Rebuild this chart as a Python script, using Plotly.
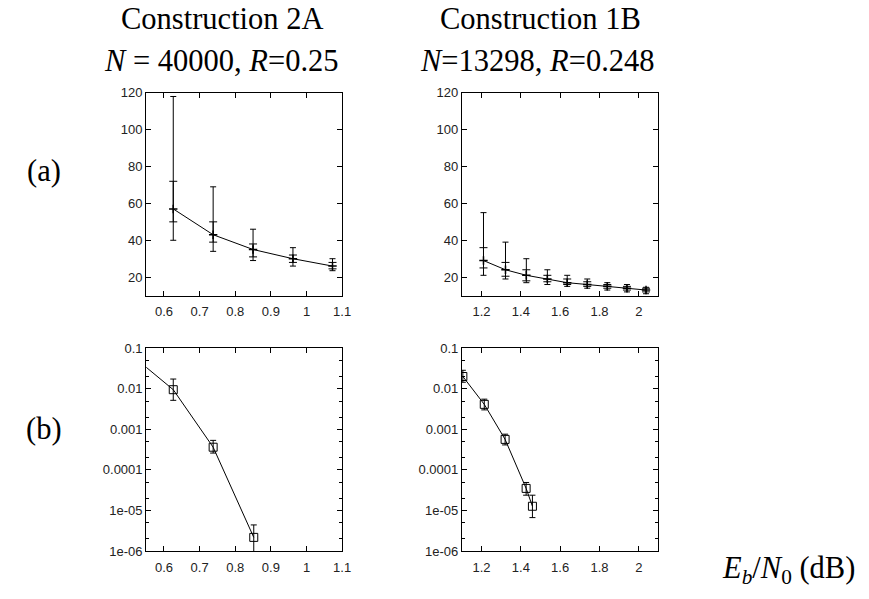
import plotly.graph_objects as go

W, H = 869, 599

# ---------------- data ----------------
# (a) Construction 2A: mean iterations with inner / outer ranges
a2_x = [0.626, 0.738, 0.850, 0.962, 1.073]
a2_mean = [57, 43, 35, 30, 26]
a2_in_lo = [50, 39, 31, 28, 24.5]
a2_in_hi = [72, 50, 38, 32, 28]
a2_out_lo = [40, 34, 29, 26, 23.5]
a2_out_hi = [118, 69, 46, 36, 30]

# (a) Construction 1B
a1_x = [1.21, 1.322, 1.428, 1.535, 1.636, 1.738, 1.84, 1.94, 2.037]
a1_mean = [29, 24, 21, 19, 17, 16, 15, 14, 13]
a1_in_lo = [25, 20.5, 18, 17.5, 16, 15, 14, 13, 12]
a1_in_hi = [36, 28, 24, 21, 19, 17.5, 16, 15, 14]
a1_out_lo = [21, 19, 17, 16, 15, 14, 13, 12, 11]
a1_out_hi = [55, 39, 30, 24, 21, 19, 17, 16, 14.5]

# (b) Construction 2A: error rate
b2_x = [0.626, 0.738, 0.852]
b2_y = [0.0095, 3.63e-4, 2.17e-6]
b2_hi = [0.0174, 5.35e-4, 4.4e-6]
b2_lo = [0.0052, 2.6e-4, 9e-7]
b2_line_x = [0.55, 0.626, 0.738, 0.852]
b2_line_y = [0.034, 0.0095, 3.63e-4, 2.17e-6]

# (b) Construction 1B
b1_x = [1.105, 1.214, 1.32, 1.427, 1.459]
b1_y = [0.0201, 0.00413, 5.65e-4, 3.5e-5, 1.27e-5]
b1_hi = [0.0286, 0.00555, 7.6e-4, 4.9e-5, 2.38e-5]
b1_lo = [0.0145, 0.00302, 4.13e-4, 2.38e-5, 6.67e-6]

log_tickvals = [1e-6, 1e-5, 1e-4, 1e-3, 1e-2, 1e-1]
log_ticktext = ["1e-06", "1e-05", "0.0001", "0.001", "0.01", "0.1"]

# ---------------- figure ----------------
fig = go.Figure()
BLACK = "#000000"


def px_x(a, b):
    return [a / W, b / W]


def px_y(top, bottom):
    return [1 - bottom / H, 1 - top / H]


def add_range_panel(xa, ya, x, mean, in_lo, in_hi, out_lo, out_hi):
    fig.add_trace(go.Scatter(
        x=x, y=mean, mode="lines", xaxis=xa, yaxis=ya,
        line=dict(width=0, color="rgba(0,0,0,0)"),
        error_y=dict(type="data", symmetric=False,
                     array=[h - m for h, m in zip(out_hi, mean)],
                     arrayminus=[m - l for l, m in zip(out_lo, mean)],
                     color=BLACK, thickness=1, width=3),
        showlegend=False, hoverinfo="skip"))
    fig.add_trace(go.Scatter(
        x=x, y=mean, mode="lines", xaxis=xa, yaxis=ya,
        line=dict(width=0, color="rgba(0,0,0,0)"),
        error_y=dict(type="data", symmetric=False,
                     array=[h - m for h, m in zip(in_hi, mean)],
                     arrayminus=[m - l for l, m in zip(in_lo, mean)],
                     color=BLACK, thickness=1, width=4),
        showlegend=False, hoverinfo="skip"))
    fig.add_trace(go.Scatter(
        x=x, y=mean, mode="lines+markers", xaxis=xa, yaxis=ya,
        line=dict(color=BLACK, width=1),
        marker=dict(symbol="cross-thin", size=6,
                    line=dict(color=BLACK, width=1.5), color=BLACK),
        showlegend=False))


add_range_panel("x", "y", a2_x, a2_mean, a2_in_lo, a2_in_hi, a2_out_lo, a2_out_hi)
add_range_panel("x2", "y2", a1_x, a1_mean, a1_in_lo, a1_in_hi, a1_out_lo, a1_out_hi)

# bottom left
fig.add_trace(go.Scatter(x=b2_line_x, y=b2_line_y, mode="lines", xaxis="x3", yaxis="y3",
                         line=dict(color=BLACK, width=1), showlegend=False))
fig.add_trace(go.Scatter(
    x=b2_x, y=b2_y, mode="markers", xaxis="x3", yaxis="y3",
    marker=dict(symbol="square-open", size=8, color=BLACK, line=dict(width=1)),
    error_y=dict(type="data", symmetric=False,
                 array=[h - v for h, v in zip(b2_hi, b2_y)],
                 arrayminus=[v - l for l, v in zip(b2_lo, b2_y)],
                 color=BLACK, thickness=1, width=3),
    showlegend=False))

# bottom right
fig.add_trace(go.Scatter(
    x=b1_x, y=b1_y, mode="lines+markers", xaxis="x4", yaxis="y4",
    line=dict(color=BLACK, width=1),
    marker=dict(symbol="square-open", size=8, color=BLACK, line=dict(width=1)),
    error_y=dict(type="data", symmetric=False,
                 array=[h - v for h, v in zip(b1_hi, b1_y)],
                 arrayminus=[v - l for l, v in zip(b1_lo, b1_y)],
                 color=BLACK, thickness=1, width=3),
    showlegend=False))

tickfont = dict(family="Liberation Sans, Arial, sans-serif", size=13, color="#222222")
common = dict(showline=True, linecolor=BLACK, linewidth=1, mirror="ticks",
              ticks="inside", ticklen=5, tickcolor=BLACK, tickwidth=1,
              showgrid=False, zeroline=False, tickfont=tickfont, fixedrange=True)
xcommon = dict(ticklabelstandoff=4, **common)

L_dom = px_x(147.7, 345.7)
R_dom = px_x(466.7, 665.3)
T_dom = px_y(88, 296)
B_dom = px_y(350, 558)

minor_log = dict(ticks="inside", ticklen=3, tickcolor=BLACK, dtick="D2", showgrid=False)

fig.update_layout(
    width=W, height=H, margin=dict(l=0, r=0, t=0, b=0),
    paper_bgcolor="white", plot_bgcolor="white",
    xaxis=dict(domain=L_dom, anchor="y", range=[0.55, 1.1], dtick=0.1, tick0=0, **xcommon),
    yaxis=dict(domain=T_dom, anchor="x", range=[10, 120], dtick=20, tick0=0, **common),
    xaxis2=dict(domain=R_dom, anchor="y2", range=[1.1, 2.1], dtick=0.2, tick0=0, **xcommon),
    yaxis2=dict(domain=T_dom, anchor="x2", range=[10, 120], dtick=20, tick0=0, **common),
    xaxis3=dict(domain=L_dom, anchor="y3", range=[0.55, 1.1], dtick=0.1, tick0=0, **xcommon),
    yaxis3=dict(domain=B_dom, anchor="x3", type="log", range=[-6, -1],
                tickvals=log_tickvals, ticktext=log_ticktext, minor=minor_log, **common),
    xaxis4=dict(domain=R_dom, anchor="y4", range=[1.1, 2.1], dtick=0.2, tick0=0, **xcommon),
    yaxis4=dict(domain=B_dom, anchor="x4", type="log", range=[-6, -1],
                tickvals=log_tickvals, ticktext=log_ticktext, minor=minor_log, **common),
)

serif = dict(family="Liberation Serif, Times New Roman, serif", size=30.5, color=BLACK)


def ann(text, x, y, xanchor="center", yanchor="middle", font=serif):
    fig.add_annotation(text=text, x=x / W, y=1 - y / H, xref="paper", yref="paper",
                       xanchor=xanchor, yanchor=yanchor, showarrow=False, font=font)


ann("Construction 2A", 224, 12)
ann("<i>N</i> = 40000, <i>R</i>=0.25", 224, 55)
ann("Construction 1B", 546, 12)
ann("<i>N</i>=13298, <i>R</i>=0.248", 543, 55)
ann("(a)", 44, 168)
ann("(b)", 44, 433)
ann("<i>E<sub>b</sub></i>/<i>N</i><sub>0</sub> (dB)", 866, 577, xanchor="right")

fig.write_html("out.html")
